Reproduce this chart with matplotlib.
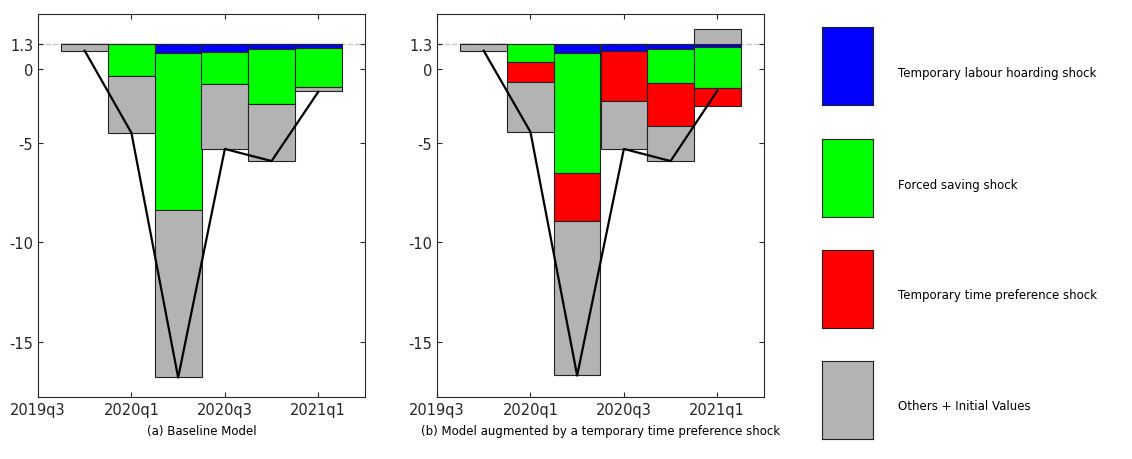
import matplotlib.pyplot as plt
import numpy as np

# quarters: 0 = 2019q3 ... bars at 2019q4..2021q1
quarters = [1, 2, 3, 4, 5, 6]
base = 1.3
tick_pos = [0, 2, 4, 6]
tick_labels = ['2019q3', '2020q1', '2020q3', '2021q1']

# contributions (deviation from 1.3), panel a
a_blue = [0, 0, -0.45, -0.40, -0.25, -0.20]
a_green = [0, -1.62, -7.93, -1.62, -2.78, -1.97]
a_red = [0, 0, 0, 0, 0, 0]
a_gray = [-0.35, -2.88, -8.43, -3.28, -2.88, -0.20]
a_line = [-0.35, -4.49, -16.82, -5.30, -5.91, -2.42]

# panel b
b_blue = [0, 0, -0.45, -0.35, -0.25, -0.15]
b_green = [0, -0.91, -6.06, 0, -1.72, -2.07]
b_red = [0, -1.01, -2.42, -2.53, -2.17, -0.91]
b_gray = [-0.35, -2.53, -7.78, -2.42, -1.77, 0.76]
b_line = [-0.35, -4.44, -16.72, -5.30, -5.91, -2.37]

colors = ['#0000ff', '#00ff00', '#ff0000', '#b3b3b3']
names = ['Temporary labour hoarding shock', 'Forced saving shock',
         'Temporary time preference shock', 'Others + Initial Values']

# label positions reproduce the reference's axis
ytick_pos = [1.3, 0.04, -3.7, -8.7, -13.75]
ytick_lab = ['1.3', '0', '-5', '-10', '-15']

fig = plt.figure(figsize=(11.32, 4.6), dpi=100)


def panel(rect, series, line, caption):
    ax = fig.add_axes(rect)
    pos = np.zeros(6)
    neg = np.zeros(6)
    for vals, c in zip(series, colors):
        vals = np.array(vals)
        bottom = np.where(vals >= 0, base + pos, base + neg)
        ax.bar(quarters, vals, width=1.0, bottom=bottom, color=c,
               edgecolor='#222222', linewidth=0.8, zorder=2)
        pos += np.clip(vals, 0, None)
        neg += np.clip(vals, None, 0)
    ax.axhline(base, color='#c8c8c8', ls='--', lw=1, zorder=1)
    ax.plot(quarters, base + np.array(line), color='black', lw=1.6, zorder=3)
    ax.set_xlim(0, 7)
    ax.set_ylim(-16.5, 2.8)
    ax.set_xticks(tick_pos, tick_labels)
    ax.set_yticks(ytick_pos, ytick_lab)
    ax.tick_params(labelsize=10.5, colors='#262626', direction='in',
                   top=True, right=True)
    for s in ax.spines.values():
        s.set_color('#262626')
    ax.set_xlabel(caption, fontsize=8.5, labelpad=5)
    return ax


panel([38 / 1132, 62 / 460, 327 / 1132, 383 / 460],
      [a_blue, a_green, a_red, a_gray], a_line, '(a) Baseline Model')
panel([437 / 1132, 62 / 460, 327 / 1132, 383 / 460],
      [b_blue, b_green, b_red, b_gray], b_line,
      '(b) Model augmented by a temporary time preference shock')

tops = [28, 140, 251, 362]
for t, c, n in zip(tops, colors, names):
    lax = fig.add_axes([822 / 1132, 1 - (t + 78) / 460, 51 / 1132, 78 / 460])
    lax.set_facecolor(c)
    lax.set_xticks([])
    lax.set_yticks([])
    for s in lax.spines.values():
        s.set_color('#222222')
    fig.text(898 / 1132, 1 - (t + 45) / 460, n, fontsize=8.5, va='center')

fig.savefig('out.png', dpi=100)
